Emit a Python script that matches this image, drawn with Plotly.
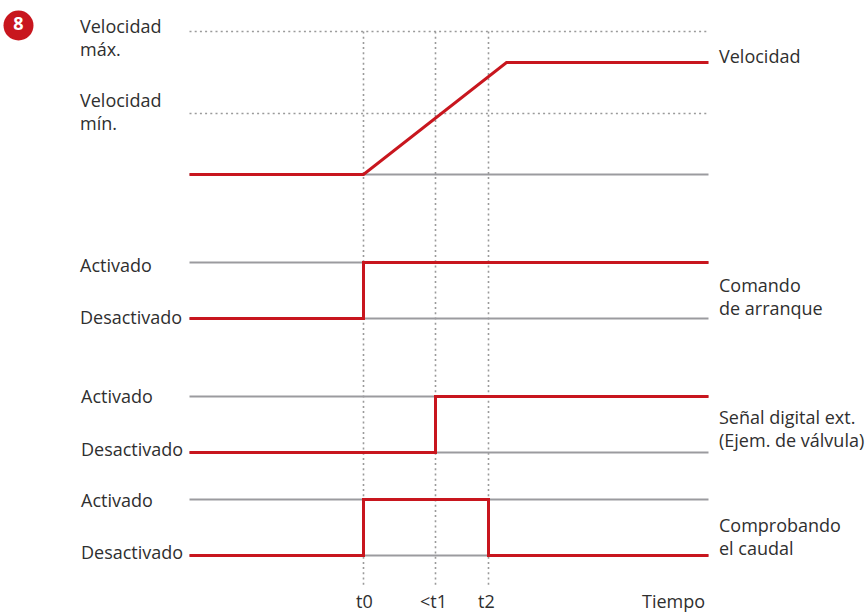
import plotly.graph_objects as go

RED = "#c8161e"
GREY = "#9b9b9f"
DOT = "#9a9a9a"
TEXT = "#2f2f2f"
FONT = "Open Sans"

# Time axis positions
t_start = 189
t0 = 363
t1 = 435
t2 = 488
t_ramp_end = 506
t_end = 708

# Signal level values
vel_max = 31
vel_ramp_top = 62
vel_min = 113
vel_base = 174
cmd_on, cmd_off = 262, 318
ext_on, ext_off = 396, 452
flow_on, flow_off = 499, 555
guide_bottom = 585

# Series
series_x = {
    "vel": [t_start, t0, t_ramp_end, t_end],
    "cmd": [t_start, t0, t0, t_end],
    "ext": [t_start, t1, t1, t_end],
    "flow": [t_start, t0, t0, t2, t2, t_end],
}
series_y = {
    "vel": [vel_base, vel_base, vel_ramp_top, vel_ramp_top],
    "cmd": [cmd_off, cmd_off, cmd_on, cmd_on],
    "ext": [ext_off, ext_off, ext_on, ext_on],
    "flow": [flow_off, flow_off, flow_on, flow_on, flow_off, flow_off],
}
grey_levels = [vel_base, cmd_on, cmd_off, ext_on, ext_off, flow_on, flow_off]
dotted_levels = [vel_max, vel_min]
guides = [t0, t1, t2]

# Labels: text, x, y
left_labels = [
    ("Velocidad<br>máx.", 77.5, 36.5),
    ("Velocidad<br>mín.", 77.5, 111),
    ("Activado", 77.5, 264),
    ("Desactivado", 77.5, 316),
    ("Activado", 78.5, 395),
    ("Desactivado", 78.5, 448),
    ("Activado", 78.5, 499),
    ("Desactivado", 78.5, 551),
]
right_labels = [
    ("Velocidad", 716.5, 55),
    ("Comando<br>de arranque", 716.5, 295.5),
    ("Señal digital ext.<br>(Ejem. de válvula)", 716.5, 428),
    ("Comprobando<br>el caudal", 716.5, 535.5),
]
time_labels = [("t0", 363.5), ("&lt;t1", 432.5), ("t2", 485.5), ("Tiempo", 673)]
time_label_y = 600.5
badge_text, badge_x, badge_y = "8", 18, 25

fig = go.Figure()

for y in dotted_levels:
    fig.add_trace(go.Scatter(x=[t_start, t_end], y=[y, y], mode="lines",
                             line=dict(color=DOT, width=1.6, dash="2px,3.2px"),
                             hoverinfo="skip"))
for x in guides:
    fig.add_trace(go.Scatter(x=[x, x], y=[vel_max, guide_bottom], mode="lines",
                             line=dict(color=DOT, width=1.6, dash="2px,3.2px"),
                             hoverinfo="skip"))
for y in grey_levels:
    fig.add_trace(go.Scatter(x=[t_start, t_end], y=[y, y], mode="lines",
                             line=dict(color=GREY, width=2),
                             hoverinfo="skip"))
for key in series_x:
    fig.add_trace(go.Scatter(x=series_x[key], y=series_y[key], mode="lines",
                             line=dict(color=RED, width=3, shape="linear"),
                             hoverinfo="skip"))

fig.add_trace(go.Scatter(x=[badge_x], y=[badge_y], mode="markers+text",
                         marker=dict(size=30, color=RED),
                         text=[badge_text], textposition="middle center",
                         textfont=dict(family=FONT, size=18, color="white", weight="bold"),
                         hoverinfo="skip"))

for text, x, y in left_labels + right_labels:
    fig.add_annotation(x=x, y=y, text=text, showarrow=False, xanchor="left", yanchor="middle",
                       align="left", xref="x", yref="y",
                       font=dict(family=FONT, size=18, color=TEXT))
for text, x in time_labels:
    fig.add_annotation(x=x, y=time_label_y, text=text, showarrow=False, xanchor="center", yanchor="middle",
                       xref="x", yref="y",
                       font=dict(family=FONT, size=18, color=TEXT))

fig.update_layout(
    width=865, height=613, margin=dict(l=0, r=0, t=0, b=0),
    paper_bgcolor="white", plot_bgcolor="white", showlegend=False,
    xaxis=dict(range=[-0.5, 864.5], visible=False, fixedrange=True),
    yaxis=dict(range=[612.5, -0.5], visible=False, fixedrange=True),
)
fig.write_html("out.html", config={"displayModeBar": False},
               post_script="document.body.style.margin='0';document.documentElement.style.overflow='hidden';")
